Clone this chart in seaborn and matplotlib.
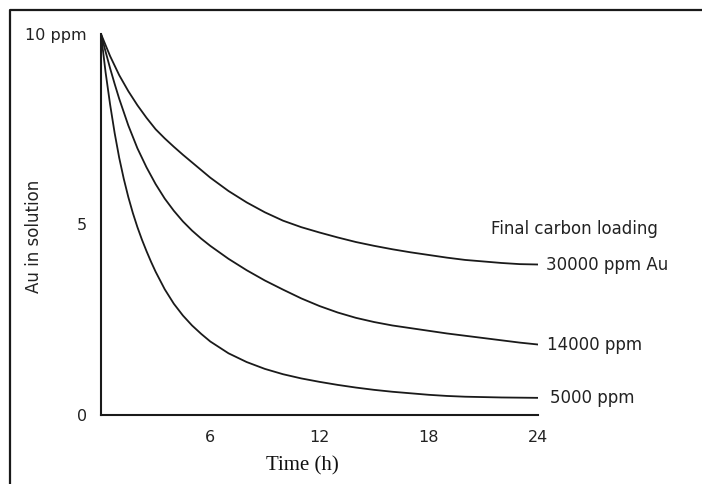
import matplotlib
matplotlib.use("Agg")
import matplotlib.pyplot as plt
import seaborn as sns
import pandas as pd
from matplotlib.lines import Line2D

# --- data ---
t_30000 = [0, 0.5, 1, 1.5, 2, 2.5, 3, 3.5, 4, 4.5, 5, 6, 7, 8, 9, 10, 11, 12, 13, 14, 15, 16, 17, 18, 19, 20, 21, 22, 23, 24]
v_30000 = [10, 9.42, 8.92, 8.5, 8.13, 7.8, 7.5, 7.26, 7.04, 6.83, 6.63, 6.23, 5.88, 5.58, 5.32, 5.1, 4.93, 4.79, 4.66, 4.54, 4.44, 4.35, 4.27, 4.2, 4.13, 4.07, 4.03, 3.99, 3.96, 3.95]

t_14000 = [0, 0.25, 0.5, 0.75, 1, 1.5, 2, 2.5, 3, 3.5, 4, 4.5, 5, 5.5, 6, 7, 8, 9, 10, 11, 12, 13, 14, 15, 16, 17, 18, 19, 20, 21, 22, 23, 24]
v_14000 = [10, 9.54, 9.1, 8.69, 8.3, 7.6, 7.0, 6.5, 6.06, 5.68, 5.36, 5.08, 4.84, 4.63, 4.44, 4.1, 3.8, 3.53, 3.29, 3.06, 2.86, 2.69, 2.55, 2.44, 2.35, 2.28, 2.21, 2.14, 2.08, 2.02, 1.96, 1.9, 1.85]

t_5000 = [0, 0.25, 0.5, 0.75, 1, 1.25, 1.5, 1.75, 2, 2.25, 2.5, 2.75, 3, 3.5, 4, 4.5, 5, 5.5, 6, 7, 8, 9, 10, 11, 12, 13, 14, 15, 16, 17, 18, 19, 20, 21, 22, 23, 24]
v_5000 = [10, 9.0, 8.15, 7.4, 6.75, 6.2, 5.72, 5.3, 4.93, 4.6, 4.3, 4.02, 3.76, 3.3, 2.92, 2.61, 2.35, 2.13, 1.93, 1.62, 1.39, 1.21, 1.07, 0.96, 0.87, 0.79, 0.72, 0.66, 0.61, 0.57, 0.53, 0.5, 0.48, 0.47, 0.46, 0.455, 0.45]

series_labels = ["30000 ppm Au", "14000 ppm", "5000 ppm"]
legend_title = "Final carbon loading"
x_ticks = [6, 12, 18, 24]
y_ticks = [0, 5, 10]
y_tick_labels = ["0", "5", "10 ppm"]
x_label = "Time (h)"
y_label = "Au in solution"

frames = []
for lab, t, v in zip(series_labels, [t_30000, t_14000, t_5000], [v_30000, v_14000, v_5000]):
    frames.append(pd.DataFrame({"t": t, "v": v, "series": lab}))
df = pd.concat(frames, ignore_index=True)

sns.set_style("white")
plt.rcParams['font.family'] = ['DejaVu Sans']

W, H = 702, 484
fig = plt.figure(figsize=(W / 100, H / 100), dpi=100)
ax = fig.add_axes([101 / W, 1 - 415 / H, (538 - 101) / W, (415 - 34) / H])

sns.lineplot(data=df, x="t", y="v", units="series", estimator=None,
             color="#1a1a1a", linewidth=1.3, ax=ax, legend=False)

ax.set_xlim(0, 24)
ax.set_ylim(0, 10)
ax.set_xticks(x_ticks)
ax.set_xticklabels([str(x) for x in x_ticks])
ax.set_yticks(y_ticks)
ax.set_yticklabels(y_tick_labels)
ax.tick_params(axis="both", direction="in", length=5, width=1.2, colors="#1a1a1a",
               labelsize=11.5, labelcolor="#222222")
ax.tick_params(axis="x", pad=11)
ax.tick_params(axis="y", pad=10)
for s in ["top", "right"]:
    ax.spines[s].set_visible(False)
for s in ["left", "bottom"]:
    ax.spines[s].set_linewidth(1.5)
    ax.spines[s].set_color("#1a1a1a")

ax.set_xlabel("")
ax.set_ylabel("")
fig.text(302 / W, 1 - 466 / H, x_label, ha="center", va="center",
         family="Liberation Serif", fontsize=15, color="#111111")
fig.text(34 / W, 1 - 236 / H, y_label, rotation=90, ha="center", va="center",
         fontsize=12, color="#222222")

# series labels at the curve ends
fig.text(574 / W, 1 - 229 / H, legend_title, ha="center", va="center",
         fontsize=12, color="#222222")
end_vals = [v_30000[-1], v_14000[-1], v_5000[-1]]
x_offsets = [5.5, 6.5, 9]
for lab, ev, dx in zip(series_labels, end_vals, x_offsets):
    ax.annotate(lab, xy=(24, ev), xytext=(dx, 0), textcoords="offset points",
                ha="left", va="center", fontsize=12, color="#222222", annotation_clip=False)

# figure frame (left and top edges)
fig.add_artist(Line2D([10 / W, 10 / W, 1], [0, 1 - 10 / H, 1 - 10 / H],
                      transform=fig.transFigure, color="#1a1a1a", linewidth=1.6))

fig.savefig("out.png", dpi=100)
